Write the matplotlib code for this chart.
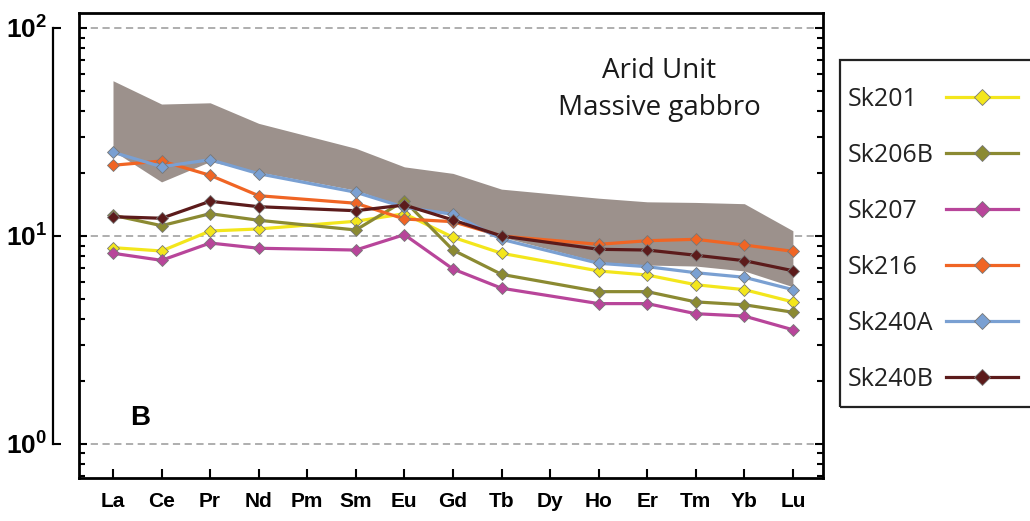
import numpy as np
import matplotlib
matplotlib.use("Agg")
import matplotlib.pyplot as plt
from matplotlib.patches import Rectangle

plt.rcParams['mathtext.fontset'] = 'custom'
plt.rcParams['mathtext.bf'] = 'Liberation Sans:bold'
plt.rcParams['mathtext.rm'] = 'Liberation Sans'

# chondrite-normalised REE, Pm and Dy not analysed
elements = ['La', 'Ce', 'Pr', 'Nd', 'Pm', 'Sm', 'Eu', 'Gd', 'Tb', 'Dy', 'Ho', 'Er', 'Tm', 'Yb', 'Lu']
measured = ['La', 'Ce', 'Pr', 'Nd', 'Sm', 'Eu', 'Gd', 'Tb', 'Ho', 'Er', 'Tm', 'Yb', 'Lu']

sk201 = [8.79, 8.47, 10.57, 10.81, 11.77, 12.8, 9.86, 8.26, 6.79, 6.49, 5.83, 5.52, 4.82]
sk206b = [12.58, 11.21, 12.80, 11.90, 10.69, 14.78, 8.56, 6.54, 5.40, 5.40, 4.82, 4.67, 4.30]
sk207 = [8.26, 7.64, 9.25, 8.73, 8.56, 10.15, 6.94, 5.61, 4.73, 4.73, 4.23, 4.12, 3.54]
sk216 = [21.88, 22.94, 19.58, 15.62, 14.37, 12.07, 11.72, 10.0, 9.12, 9.49, 9.64, 9.05, 8.44]
sk240a = [25.26, 21.54, 23.27, 19.93, 16.23, 13.74, 12.72, 9.64, 7.39, 7.12, 6.66, 6.33, 5.52]
sk240b = [12.38, 12.17, 14.69, 13.83, 13.23, 14.09, 11.94, 10.0, 8.63, 8.56, 8.08, 7.61, 6.81]

# field of the other massive gabbros
band_hi = [55.8, 43.1, 43.7, 34.8, 26.4, 21.5, 20.0, 16.8, 15.2, 14.6, 14.5, 14.3, 10.6]
band_lo = [25.7, 18.2, 22.8, 20.3, 16.6, 13.8, 12.6, 9.9, 7.5, 7.25, 7.17, 6.79, 5.70]

samples = ['Sk201', 'Sk206B', 'Sk207', 'Sk216', 'Sk240A', 'Sk240B']
series = [sk201, sk206b, sk207, sk216, sk240a, sk240b]
colors = ['#f3e61c', '#8b8a32', '#b8459a', '#f06524', '#7aa0d2', '#5c1b1b']

xpos = [elements.index(e) for e in measured]

W, H = 1030, 521
fig = plt.figure(figsize=(W / 100, H / 100), dpi=100)
box = [79 / W, 1 - 478 / H, (823 - 79) / W, (478 - 13) / H]
ax = fig.add_axes(box)
ax.set_yscale('log')
ax.set_ylim(0.686, 118.1)
ax.set_xlim(-0.70, 14.62)

ax.fill_between(xpos, band_lo, band_hi, color='#9c918c', lw=0, zorder=1)
for yv in [1, 10, 100]:
    ax.axhline(yv, color='#a8a8a8', lw=1.3, ls=(0, (4, 2.5)), zorder=0.5)

handles = []
for name, vals, c in zip(samples, series, colors):
    ln, = ax.plot(xpos, vals, color=c, lw=2.3, marker='D', ms=6.5,
                  mfc=c, mec='#777777', mew=0.6, label=name, zorder=3)
    handles.append(ln)

for sp in ax.spines.values():
    sp.set_linewidth(2.0)
ax.set_xticks(range(len(elements)))
ax.set_xticklabels(elements, family=['Liberation Sans Narrow', 'Liberation Sans'],
                   fontweight='bold', fontsize=15)
ax.tick_params(axis='x', direction='in', length=6.5, width=1.5, pad=10, top=False)
ax.tick_params(axis='y', which='both', direction='in', left=True, right=True,
               labelleft=False, width=1.5)
ax.tick_params(axis='y', which='major', length=6)
ax.tick_params(axis='y', which='minor', length=4)

ax.text(0.78, 0.836, 'Arid Unit\nMassive gabbro', transform=ax.transAxes,
        ha='center', va='center', fontsize=20, family='Open Sans',
        color='#1a1a1a', linespacing=1.45)
ax.text(0.082, 0.129, 'B', transform=ax.transAxes, ha='center', va='center',
        fontsize=20, fontweight='bold', family='Liberation Sans')

# detached scale bar carrying the decade labels
sax = fig.add_axes([53 / W, box[1], 0.01, box[3]])
sax.set_yscale('log')
sax.set_ylim(ax.get_ylim())
sax.patch.set_visible(False)
for k in ['top', 'right', 'bottom']:
    sax.spines[k].set_visible(False)
sax.spines['left'].set_bounds(1, 100)
sax.spines['left'].set_linewidth(1.6)
sax.set_xticks([])
sax.set_yticks([1, 10, 100], labels=[r'$\mathbf{10^{0}}$', r'$\mathbf{10^{1}}$', r'$\mathbf{10^{2}}$'])
sax.yaxis.set_minor_locator(matplotlib.ticker.NullLocator())
sax.tick_params(axis='y', direction='in', length=6, width=1.5, pad=4, labelsize=19)

# legend: names left-aligned, line samples to the right, open box cut by the edge
leg = fig.legend(handles=handles, loc='upper left', bbox_to_anchor=(848 / W, 1 - 87 / H),
                 markerfirst=False, frameon=False, borderaxespad=0, borderpad=0,
                 handlelength=2.88, handletextpad=0.48, labelspacing=1.24,
                 markerscale=1.3, prop={'family': 'Open Sans', 'size': 18})
for t in leg.get_texts():
    t.set_color('#222222')
renderer = fig.canvas.get_renderer()
widths = [t.get_window_extent(renderer).width for t in leg.get_texts()]
column = leg._legend_handle_box.get_children()[0]
column.align = 'left'
for row, w in zip(column.get_children(), widths):
    row.sep = row.sep + (max(widths) - w) * 72 / fig.dpi
fig.add_artist(Rectangle((840 / W, 1 - 407 / H), 300 / W, (407 - 60) / H,
                         transform=fig.transFigure, fill=False, lw=1.6, ec='#222222'))

fig.savefig('out.png', dpi=100)
